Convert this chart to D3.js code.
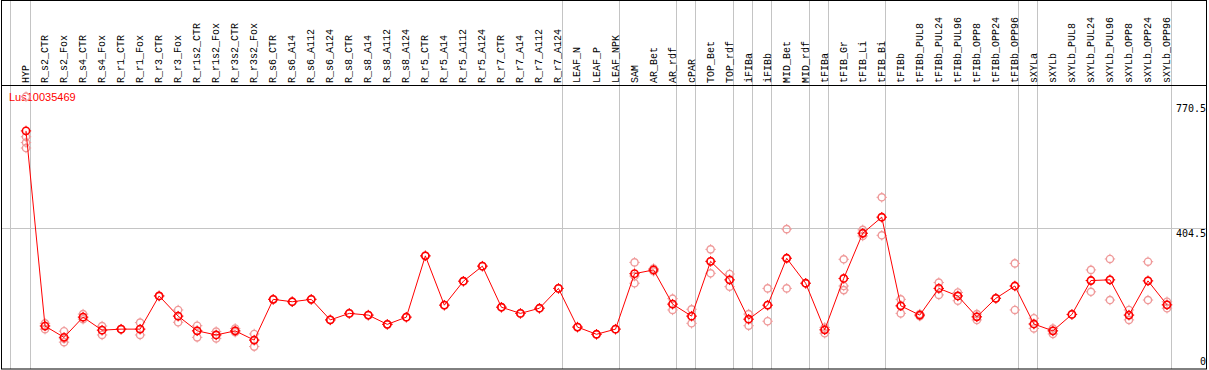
<!DOCTYPE html>
<html>
<head>
<meta charset="utf-8">
<script src="https://cdn.jsdelivr.net/npm/d3@7"></script>
<style>
  body { margin: 0; background: #fff; }
  svg { display: block; }
  .lab { font-family: "DejaVu Sans Mono", monospace; font-size: 10px; fill: #000; }
  .rot { font-family: "Liberation Mono", "DejaVu Sans Mono", monospace; font-size: 10px; fill: #000; }
</style>
</head>
<body>
<script>
var width = 1209, height = 370;

var categories = ["HYP","R_s2_CTR","R_s2_Fox","R_s4_CTR","R_s4_Fox","R_r1_CTR","R_r1_Fox","R_r3_CTR","R_r3_Fox",
  "R_r1s2_CTR","R_r1s2_Fox","R_r3s2_CTR","R_r3s2_Fox","R_s6_CTR","R_s6_A14","R_s6_A112","R_s6_A124",
  "R_s8_CTR","R_s8_A14","R_s8_A112","R_s8_A124","R_r5_CTR","R_r5_A14","R_r5_A112","R_r5_A124",
  "R_r7_CTR","R_r7_A14","R_r7_A112","R_r7_A124","LEAF_N","LEAF_P","LEAF_NPK","SAM","AR_Bet","AR_rdf",
  "cPAR","TOP_Bet","TOP_rdf","iFIBa","iFIBb","MID_Bet","MID_rdf","tFIBa","tFIB_Gr","tFIB_Li","tFIB_Bi",
  "tFIBb","tFIBb_PUL8","tFIBb_PUL24","tFIBb_PUL96","tFIBb_OPP8","tFIBb_OPP24","tFIBb_OPP96",
  "sXYLa","sXYLb","sXYLb_PUL8","sXYLb_PUL24","sXYLb_PUL96","sXYLb_OPP8","sXYLb_OPP24","sXYLb_OPP96"];

// mean expression per sample
var means = [689,119,86,145,107,110,110,207,148,105,93,105,78,197,190,197,137,156,151,124,145,324,180,250,294,
  174,156,171,229,116,95,110,272,283,183,148,308,254,139,180,317,244,108,258,390,437,
  178,151,229,207,146,200,236,125,105,153,252,254,151,251,181];

// replicate values per sample
var replicates = [[789,672,655,639],[127,120,110],[104,82,72],[154,145,139],[119,107,93],[110,110],[129,110,93],
  [207,207],[166,148,130],[120,105,86],[103,93,83],[112,105,101],[96,78,59],[197,197],[190,190],[197,197],
  [137,137],[156,156],[151,151],[124,124],[145,145],[324,324],[180,180],[250,250],[294,294],[174,174],
  [156,156],[171,171],[229,229],[116,116],[95,95],[110,110],[305,265,244],[287,279],[199,183,166],
  [168,148,127],[343,308,273],[271,254,234],[154,139,120],[229,180,133],[402,317,229],[244,244],
  [115,108,98],[314,236,224],[400,390,382],[495,437,384],[197,178,156],[154,151,148],[246,229,210],
  [217,207,193],[154,146,137],[200,200],[302,236,166],[142,125,112],[112,105,96],[153,153],[283,252,219],
  [315,254,195],[166,151,137],[307,251,195],[190,181,171]];

var groupEnds = ["HYP","R_r7_A124","LEAF_NPK","AR_rdf","cPAR","TOP_rdf","iFIBa","iFIBb","MID_rdf",
  "tFIBa","tFIB_Bi","tFIBb_OPP96","sXYLa","sXYLb_OPP96"];

var yTicks = [0, 404.5, 770.5];
var geneName = "Lus10035469";

var svg = d3.select("body").append("svg").attr("width", width).attr("height", height);

var x = d3.scalePoint().domain(categories).range([26, 1167]);
var y = d3.scaleLinear().domain([0, 770.5]).range([366.8, 103]);
var step = x.step();

// group separators
var seps = [x(categories[0]) - step + 3.5].concat(groupEnds.map(function(g){ return x(g) + 3.5; }));
svg.append("g").selectAll("line").data(seps).enter().append("line")
  .attr("x1", function(d){ return Math.round(d) + 0.5; })
  .attr("x2", function(d){ return Math.round(d) + 0.5; })
  .attr("y1", 0).attr("y2", 369)
  .style("stroke", "#c4c4c4").style("stroke-width", 1);

// horizontal grid at middle tick
svg.append("line")
  .attr("x1", 1).attr("x2", 1207)
  .attr("y1", Math.round(y(404.5)) + 0.5).attr("y2", Math.round(y(404.5)) + 0.5)
  .style("stroke", "#c4c4c4");

// frame
svg.append("rect").attr("x", 1.5).attr("y", 0.5).attr("width", 1205).attr("height", 368.5)
  .style("fill", "none").style("stroke", "#000");
svg.append("line").attr("x1", 1).attr("x2", 1207).attr("y1", 85.5).attr("y2", 85.5)
  .style("stroke", "#000");

// sample labels
svg.append("g").selectAll("text").data(categories).enter().append("text")
  .attr("class", "rot")
  .attr("transform", function(d){ return "translate(" + (Math.round(x(d)) + 2.5) + ",83) rotate(-90)"; })
  .text(function(d){ return d; });

// y tick labels
svg.append("g").selectAll("text").data(yTicks).enter().append("text")
  .attr("class", "lab")
  .attr("text-anchor", "end")
  .attr("x", 1206)
  .attr("y", function(d, i){ return i == 0 ? y(d) - 2 : y(d) + 9; })
  .text(function(d){ return d; });

svg.append("text")
  .attr("x", 9).attr("y", 101)
  .style("font-family", "'Liberation Sans', Arial, sans-serif")
  .style("font-size", "11px")
  .style("fill", "#ff0000")
  .text(geneName);

var marker = function(grp, cx, cy, color, sw){
  grp.append("circle").attr("cx", cx).attr("cy", cy).attr("r", 3.6)
    .style("fill", "none").style("stroke", color).style("stroke-width", sw);
  [[0,-1],[0,1],[-1,0],[1,0]].forEach(function(v){
    grp.append("line")
      .attr("x1", cx + v[0]*3.6).attr("y1", cy + v[1]*3.6)
      .attr("x2", cx + v[0]*5.2).attr("y2", cy + v[1]*5.2)
      .style("stroke", color).style("stroke-width", 1);
  });
};

// replicates
var repGrp = svg.append("g");
replicates.forEach(function(reps, i){
  reps.forEach(function(v){
    marker(repGrp, x(categories[i]), y(v), "#ef9a9a", 1.4);
  });
});

// mean line
var line = d3.line()
  .x(function(d, i){ return x(categories[i]); })
  .y(function(d){ return y(d); });
svg.append("path").datum(means).attr("d", line)
  .style("fill", "none").style("stroke", "#ff0000").style("stroke-width", 1);

var meanGrp = svg.append("g");
means.forEach(function(v, i){
  marker(meanGrp, x(categories[i]), y(v), "#ff0000", 1.6);
});
</script>
</body>
</html>
